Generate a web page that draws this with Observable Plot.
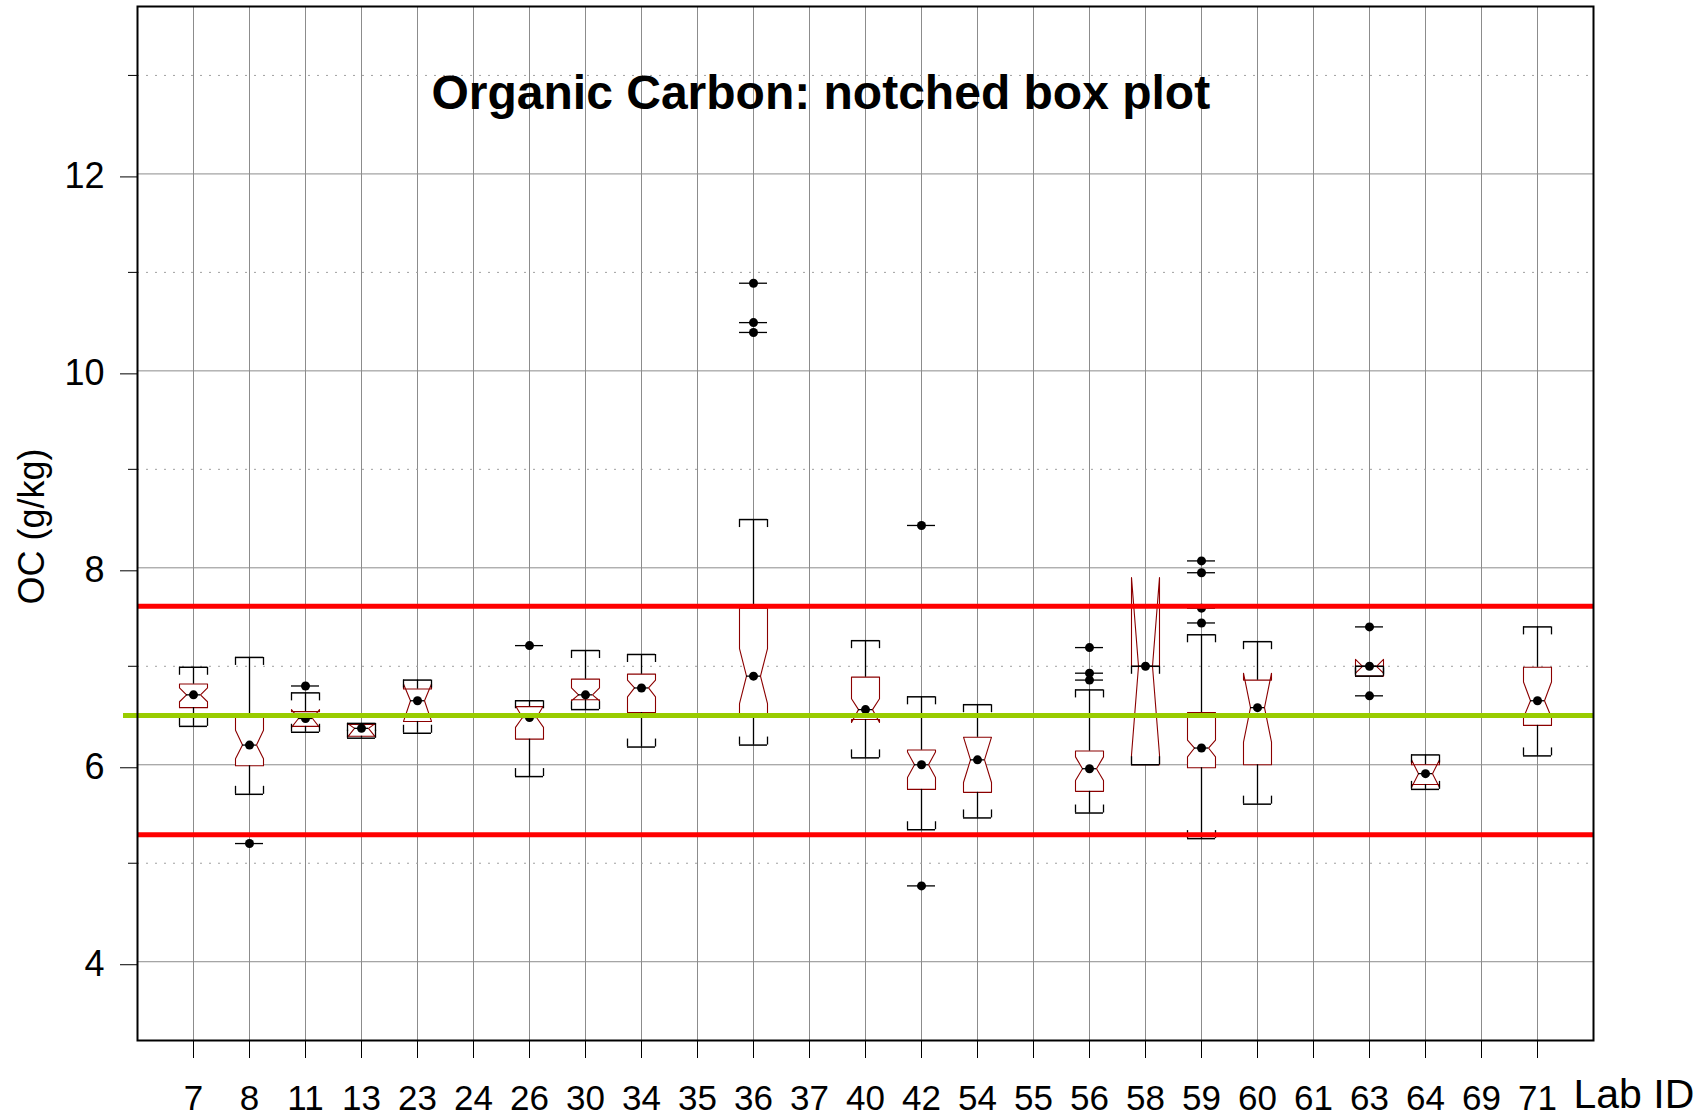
<!DOCTYPE html>
<html>
<head>
<meta charset="utf-8">
<script src="https://cdn.jsdelivr.net/npm/d3@7"></script>
<script src="https://cdn.jsdelivr.net/npm/@observablehq/plot@0.6"></script>
<style>
  html, body { margin: 0; padding: 0; background: #fff; }
  #chart { width: 1704px; height: 1117px; }
</style>
</head>
<body>
<div id="chart"></div>
<script>
// ---- data ----
const labs = [7, 8, 11, 13, 23, 24, 26, 30, 34, 35, 36, 37, 40, 42, 54, 55, 56, 58, 59, 60, 61, 63, 64, 69, 71];
const whiskerLow  = [6.39, 5.70, 6.33, 6.27, 6.32, null, 5.88, 6.56, 6.18, null, 6.20, null, 6.07, 5.34, 5.46, null, 5.51, 6.00, 5.25, 5.60, null, 6.90, 5.75, null, 6.09];
const q1          = [6.58, 5.99, 6.39, 6.29, 6.44, null, 6.26, 6.66, 6.53, null, 6.50, null, 6.46, 5.75, 5.72, null, 5.73, 6.00, 5.97, 6.00, null, 6.90, 5.80, null, 6.40];
const median      = [6.71, 6.20, 6.47, 6.37, 6.65, null, 6.48, 6.71, 6.78, null, 6.90, null, 6.56, 6.00, 6.05, null, 5.96, 7.00, 6.17, 6.58, null, 7.00, 5.91, null, 6.65];
const q3          = [6.82, 6.50, 6.54, 6.41, 6.77, null, 6.59, 6.87, 6.92, null, 7.59, null, 6.89, 6.15, 6.28, null, 6.14, 7.00, 6.53, 6.86, null, 7.00, 6.00, null, 6.99];
const whiskerHigh = [6.99, 7.09, 6.73, 6.42, 6.86, null, 6.65, 7.16, 7.12, null, 8.49, null, 7.26, 6.69, 6.61, null, 6.76, 7.00, 7.32, 7.25, null, 7.00, 6.10, null, 7.40];
const notchLow    = [6.64, 6.06, 6.38, 6.28, 6.44, null, 6.38, 6.65, 6.69, null, 6.62, null, 6.43, 5.87, 5.82, null, 5.84, 6.10, 6.08, 6.23, null, 6.93, 5.77, null, 6.48];
const notchHigh   = [6.78, 6.35, 6.56, 6.42, 6.82, null, 6.60, 6.78, 6.86, null, 7.18, null, 6.67, 6.13, 6.28, null, 6.08, 7.90, 6.25, 6.93, null, 7.07, 6.05, null, 6.84];
const outlierLab   = [8, 11, 26, 36, 36, 36, 42, 42, 56, 56, 56, 59, 59, 59, 59, 63, 63];
const outlierValue = [5.20, 6.80, 7.21, 10.89, 10.49, 10.39, 8.43, 4.77, 7.19, 6.93, 6.86, 8.07, 7.95, 7.59, 7.44, 7.40, 6.70];
const assignedValue = [6.5];
const limitValues = [5.29, 7.61];
const majorTicks = [4, 6, 8, 10, 12];
const minorTicks = [5, 7, 9, 11, 13];

// ---- derived tables ----
const HW = 0.25;   // half box width (x units)
const NW = 0.125;  // notch inset
const positions = labs.map((d, i) => i + 1);
const posOf = new Map(labs.map((d, i) => [d, i + 1]));
const boxes = labs.map((lab, i) => ({
  lab, i: i + 1,
  wlo: whiskerLow[i], q1: q1[i], med: median[i], q3: q3[i], whi: whiskerHigh[i],
  nlo: notchLow[i], nhi: notchHigh[i]
})).filter(d => d.med != null);

const poly = boxes.flatMap(b => [
  [b.i - HW, b.q1], [b.i - HW, b.nlo], [b.i - HW + NW, b.med], [b.i - HW, b.nhi], [b.i - HW, b.q3],
  [b.i + HW, b.q3], [b.i + HW, b.nhi], [b.i + HW - NW, b.med], [b.i + HW, b.nlo], [b.i + HW, b.q1],
  [b.i - HW, b.q1]
].map(([x, y]) => ({lab: b.lab, x, y})));

const stapleEnds = boxes.flatMap(b => [
  {x: b.i - HW, whi: b.whi, wlo: b.wlo},
  {x: b.i + HW, whi: b.whi, wlo: b.wlo}
]);

const outliers = outlierLab.map((lab, k) => ({i: posOf.get(lab), v: outlierValue[k]}));

const chart = Plot.plot({
  width: 1704,
  height: 1117,
  marginLeft: 137,
  marginRight: 111,
  marginTop: 6,
  marginBottom: 77,
  x: {type: "linear", domain: [0, 26], axis: null},
  y: {domain: [3.2, 13.7], axis: null},
  style: {fontFamily: "'Liberation Sans', Arial, sans-serif", background: "white", color: "black"},
  marks: [
    Plot.gridX({ticks: positions, stroke: "#8c8c8c", strokeOpacity: 1, strokeWidth: 1}),
    Plot.gridY({ticks: majorTicks, stroke: "#8c8c8c", strokeOpacity: 1, strokeWidth: 1}),
    Plot.gridY({ticks: minorTicks, stroke: "#a0a0a0", strokeOpacity: 1, strokeWidth: 1, strokeDasharray: "2,7"}),
    // notched boxes
    Plot.line(poly, {x: "x", y: "y", z: "lab", fill: "white", stroke: "#8b0000", strokeWidth: 1.1, curve: "linear"}),
    // whiskers
    Plot.ruleX(boxes, {x: "i", y1: "q3", y2: "whi", stroke: "black", strokeWidth: 1.3}),
    Plot.ruleX(boxes, {x: "i", y1: "wlo", y2: "q1", stroke: "black", strokeWidth: 1.3}),
    // staples
    Plot.ruleY(boxes, {y: "whi", x1: d => d.i - HW, x2: d => d.i + HW, stroke: "black", strokeWidth: 1.5}),
    Plot.ruleY(boxes, {y: "wlo", x1: d => d.i - HW, x2: d => d.i + HW, stroke: "black", strokeWidth: 1.5}),
    Plot.ruleX(stapleEnds, {x: "x", y1: "whi", y2: "whi", insetBottom: -8, stroke: "black", strokeWidth: 1.3}),
    Plot.ruleX(stapleEnds, {x: "x", y1: "wlo", y2: "wlo", insetTop: -8, stroke: "black", strokeWidth: 1.3}),
    // medians
    Plot.ruleY(boxes, {y: "med", x1: d => d.i - HW + NW, x2: d => d.i + HW - NW, stroke: "black", strokeWidth: 1.3}),
    Plot.dot(boxes, {x: "i", y: "med", r: 4.5, fill: "black", stroke: null}),
    // outliers
    Plot.ruleY(outliers, {y: "v", x1: d => d.i - HW, x2: d => d.i + HW, stroke: "black", strokeWidth: 1.3}),
    Plot.dot(outliers, {x: "i", y: "v", r: 4.5, fill: "black", stroke: null}),
    // reference lines
    Plot.ruleY(limitValues, {stroke: "#ff0000", strokeWidth: 5}),
    Plot.ruleY(assignedValue, {stroke: "#99cc00", strokeWidth: 5, insetLeft: -14}),
    Plot.frame({stroke: "black", strokeWidth: 2}),
    // axes
    Plot.axisY({ticks: majorTicks, tickSize: 17, tickPadding: 16, fontSize: 36, dy: 3, label: null, stroke: "black"}),
    Plot.axisY({ticks: minorTicks, tickSize: 9, tickFormat: () => "", label: null, stroke: "black"}),
    Plot.axisX({ticks: positions, tickSize: 18, tickPadding: 27, fontSize: 35, tickFormat: i => String(labs[i - 1]), label: null, stroke: "black"}),
    // texts
    Plot.text(["Organic Carbon: notched box plot"], {text: d => d, frameAnchor: "top-left", dx: 294, dy: 102, textAnchor: "start", lineAnchor: "bottom", fontSize: 48, fontWeight: "bold", fill: "black"}),
    Plot.text(["OC (g/kg)"], {text: d => d, frameAnchor: "left", dx: -94, dy: 3, rotate: -90, textAnchor: "middle", lineAnchor: "bottom", fontSize: 36, fill: "black"}),
    Plot.text(["Lab ID"], {text: d => d, frameAnchor: "bottom-right", dx: -20, dy: 67, textAnchor: "start", lineAnchor: "bottom", fontSize: 41, fill: "black"})
  ]
});
document.getElementById("chart").appendChild(chart);
</script>
</body>
</html>
